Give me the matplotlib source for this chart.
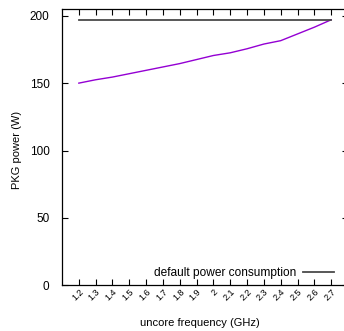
import matplotlib
matplotlib.use("Agg")
import matplotlib.pyplot as plt

plt.rcParams['font.family'] = ['Liberation Sans', 'DejaVu Sans']

freq = [1.2, 1.3, 1.4, 1.5, 1.6, 1.7, 1.8, 1.9, 2.0, 2.1, 2.2, 2.3, 2.4, 2.5, 2.6, 2.7]
freq_labels = ['1.2', '1.3', '1.4', '1.5', '1.6', '1.7', '1.8', '1.9', '2',
               '2.1', '2.2', '2.3', '2.4', '2.5', '2.6', '2.7']
pkg_power = [150, 152.5, 154.5, 157, 159.5, 162, 164.5, 167.5, 170.5,
             172.5, 175.5, 179, 181.5, 186.5, 191.5, 197]
default_power = [197] * len(freq)

fig = plt.figure(figsize=(3.44, 3.31), dpi=100)
ax = fig.add_axes([62 / 344, 45.7 / 331, (348 - 62) / 344, (285.3 - 9) / 331])

ax.plot(freq, pkg_power, color='#9400d3', lw=1.0)
ax.plot(freq, default_power, color='#4a4a4a', lw=1.3, label='default power consumption')

ax.set_xlim(1.1, 2.8)
ax.set_ylim(0, 205)
ax.set_xticks(freq)
ax.set_xticklabels(freq_labels, rotation=45, ha='right', va='top',
                   rotation_mode='anchor', fontsize=6.5)
ax.set_yticks([0, 50, 100, 150, 200])
ax.tick_params(axis='y', labelsize=8.5, pad=9)
ax.tick_params(direction='in', top=True, right=True, length=4, width=0.8)
ax.tick_params(axis='x', pad=1.5)

for s in ax.spines.values():
    s.set_linewidth(0.9)

ax.set_xlabel('uncore frequency (GHz)', fontsize=8)
ax.xaxis.set_label_coords(0.4825, -0.119)
ax.set_ylabel('PKG power (W)', fontsize=8)
ax.yaxis.set_label_coords(-0.14, 0.49)

ax.legend(loc='lower right', bbox_to_anchor=(0.975, 0.0), frameon=False, fontsize=8.6,
          markerfirst=False, handlelength=2.6, handletextpad=0.6, borderaxespad=0.15)

fig.savefig('out.png', dpi=100)
